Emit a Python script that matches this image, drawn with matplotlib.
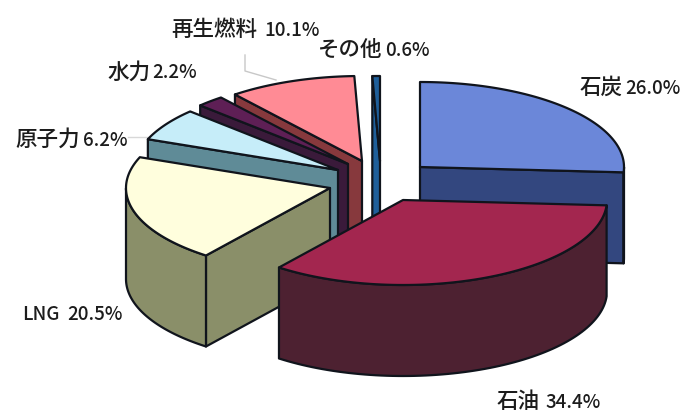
import numpy as np
import matplotlib
matplotlib.use('Agg')
import matplotlib.pyplot as plt
from matplotlib.patches import Polygon

plt.rcParams['font.family'] = ['Noto Sans CJK JP', 'DejaVu Sans']

names = ['石炭', '石油', 'LNG', '原子力', '水力', '再生燃料', 'その他']
values = [26.0, 34.4, 20.5, 6.2, 2.2, 10.1, 0.6]

# exploded centres of each slice, in pixels of the picture
centres = [(420, 167), (403, 200), (330, 188), (338, 170), (348, 164), (362, 161), (380, 161)]
top_colors = ['#6b87d9', '#a3264f', '#fffedd', '#c6edf9', '#5e1f55', '#ff8b95', '#1f5f9a']
side_colors = ['#33477f', '#4d2131', '#8a8f69', '#5f8b97', '#3a1a3a', '#87393d', '#1f5f9a']
depths = [91, 91, 91, 91, 91, 91, 140]
name_pos = [(580, 88), (497, 402), (22, 314), (15, 140), (107, 73), (171, 30), (318, 50)]
pct_pos = [(680, 88), (601, 402), (123, 314), (128, 140), (197, 73), (320, 30), (430, 50)]

rx, ry = 204, 85
edge = '#10141c'

fig = plt.figure(figsize=(6.85, 4.16), dpi=100)
ax = fig.add_axes([0, 0, 1, 1])
ax.set_xlim(0, 685)
ax.set_ylim(416, 0)
ax.axis('off')


def rim(cx, cy, a):
    return cx + rx * np.cos(a), cy - ry * np.sin(a)


# angles of every slice, clockwise from 12 o'clock
ends = np.cumsum(values)
starts = ends - np.array(values)
a1 = np.radians(90 - starts * 3.6)
a2 = np.radians(90 - ends * 3.6)

# leader lines
ax.plot([245, 245, 276], [55, 71, 80], color='#c8c8c8', lw=1, zorder=1)
ax.plot([128, 147], [137, 137], color='#d8d8d8', lw=1, zorder=1)

# paint from the back to the front
order = [0, 6, 5, 4, 3, 2, 1]
z = 2
for i in order:
    cx, cy = centres[i]
    depth = depths[i]
    t = np.linspace(a1[i], a2[i], 80)
    x, y = rim(cx, cy, t)

    # cut faces
    for a, show in ((a1[i], np.cos(a1[i]) < -1e-6), (a2[i], np.cos(a2[i]) > 1e-6)):
        if show:
            ex, ey = rim(cx, cy, a)
            pts = [(cx, cy), (ex, ey), (ex, ey + depth), (cx, cy + depth)]
            ax.add_patch(Polygon(pts, closed=True, fc=side_colors[i], ec=edge, lw=1.6, zorder=z, joinstyle='round'))
            z += 1

    # outer wall, front half only
    front = np.sin(t) < 0
    if front.any():
        fx, fy = x[front], y[front]
        pts = np.r_[np.c_[fx, fy], np.c_[fx[::-1], fy[::-1] + depth]]
        ax.add_patch(Polygon(pts, closed=True, fc=side_colors[i], ec=edge, lw=1.6, zorder=z, joinstyle='round'))
        z += 1

    # top face
    pts = np.r_[[(cx, cy)], np.c_[x, y]]
    ax.add_patch(Polygon(pts, closed=True, fc=top_colors[i], ec=edge, lw=1.6, zorder=z, joinstyle='round'))
    z += 1

for name, val, p1, p2 in zip(names, values, name_pos, pct_pos):
    size = 13.5 if name == 'LNG' else 15.5
    ax.text(p1[0], p1[1], name, fontsize=size, fontweight='medium', color='#1c1c1c',
            ha='left', va='center', zorder=50)
    ax.text(p2[0], p2[1], f'{val:.1f}%', fontsize=13.5, fontweight='medium', color='#1c1c1c',
            ha='right', va='center', zorder=50)

plt.savefig('out.png', dpi=100)
